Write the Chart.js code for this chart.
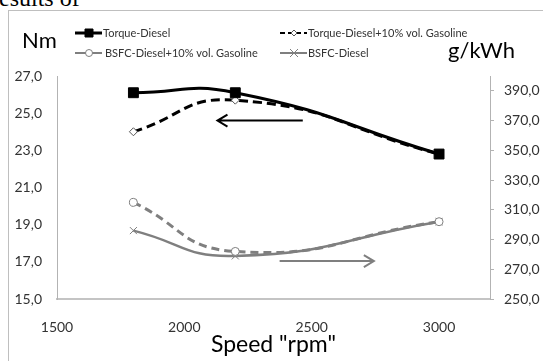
<!DOCTYPE html>
<html>
<head>
<meta charset="utf-8">
<script src="https://cdn.jsdelivr.net/npm/chart.js@4.4.0/dist/chart.umd.min.js"></script>
<style>
html, body { margin: 0; padding: 0; background: #fff; overflow: hidden; width: 543px; height: 361px; }
#lead { position: absolute; left: -9px; top: -14px; font: 24px/24px "Liberation Serif", serif; color: #000; white-space: nowrap; }
#frame { position: absolute; left: 8px; top: 10px; width: 560px; height: 380px; border: 1px solid #bfbfbf; background: #fff; }
#chart { position: absolute; left: 0; top: 0; }
</style>
</head>
<body>
<div id="lead">results of</div>
<div id="frame"><canvas id="chart" width="545" height="360"></canvas></div>
<script>
// Engine speed (rpm) and measured results
const speeds = [1800, 2200, 3000];
const torqueDiesel = [26.1, 26.1, 22.8];          // Nm
const torqueBlend = [24.0, 25.7, 22.8];           // Nm
const bsfcBlend = [315, 282, 302];                // g/kWh
const bsfcDiesel = [296, 279, 302];               // g/kWh

const seriesNames = [
  'Torque-Diesel',
  'Torque-Diesel+10% vol. Gasoline',
  'BSFC-Diesel+10% vol. Gasoline',
  'BSFC-Diesel'
];

// Axis ticks
const speedTicks = [1500, 2000, 2500, 3000];
const torqueTicks = [15, 17, 19, 21, 23, 25, 27];
const bsfcTicks = [250, 270, 290, 310, 330, 350, 370, 390];

// Direction arrows, in axis units: [speed, value]
const torqueArrow = { from: [2465, 24.6], to: [2130, 24.6], axis: 'y' };
const bsfcArrow = { from: [2374, 275.5], to: [2744, 275.5], axis: 'y1' };

const BLACK = '#000000';
const GREY = '#7f7f7f';
const AXIS = '#b3b3b3';
const TEXT = '#333333';
const FONT = 'Lato, "Open Sans", sans-serif';

const pts = (ys) => speeds.map((x, i) => ({ x, y: ys[i] }));
const comma = (v) => Number(v).toFixed(1).replace('.', ',');
const plain = (v) => String(v);

const datasets = [
  { label: seriesNames[0], data: pts(torqueDiesel), yAxisID: 'y',
    borderColor: BLACK, borderWidth: 3, pointStyle: 'rect', pointRadius: 7,
    pointBackgroundColor: BLACK, pointBorderColor: BLACK, pointBorderWidth: 1 },
  { label: seriesNames[1], data: pts(torqueBlend), yAxisID: 'y',
    borderColor: BLACK, borderWidth: 3, borderDash: [9, 5], pointStyle: 'rectRot', pointRadius: 4,
    pointBackgroundColor: '#ffffff', pointBorderColor: '#555555', pointBorderWidth: 1 },
  { label: seriesNames[2], data: pts(bsfcBlend), yAxisID: 'y1',
    borderColor: GREY, borderWidth: 3, borderDash: [8, 5], pointStyle: 'circle', pointRadius: 4,
    pointBackgroundColor: '#ffffff', pointBorderColor: GREY, pointBorderWidth: 1 },
  { label: seriesNames[3], data: pts(bsfcDiesel), yAxisID: 'y1',
    borderColor: GREY, borderWidth: 2.5, pointStyle: 'crossRot', pointRadius: 5,
    pointBackgroundColor: GREY, pointBorderColor: GREY, pointBorderWidth: 1 }
];

function drawMarker(ctx, style, r, x, y, fill, stroke) {
  ctx.save();
  ctx.setLineDash([]);
  ctx.lineWidth = 1;
  ctx.fillStyle = fill;
  ctx.strokeStyle = stroke;
  ctx.beginPath();
  if (style === 'rect') {
    ctx.rect(x - r, y - r, 2 * r, 2 * r);
    ctx.fill(); ctx.stroke();
  } else if (style === 'rectRot') {
    ctx.moveTo(x, y - r); ctx.lineTo(x + r, y); ctx.lineTo(x, y + r); ctx.lineTo(x - r, y); ctx.closePath();
    ctx.fill(); ctx.stroke();
  } else if (style === 'circle') {
    ctx.arc(x, y, r, 0, Math.PI * 2);
    ctx.fill(); ctx.stroke();
  } else if (style === 'crossRot') {
    ctx.moveTo(x - r, y - r); ctx.lineTo(x + r, y + r);
    ctx.moveTo(x + r, y - r); ctx.lineTo(x - r, y + r);
    ctx.stroke();
  }
  ctx.restore();
}

// Two-row legend plus the horizontal unit labels above each value axis
const headerPlugin = {
  id: 'header',
  afterDraw(chart) {
    const ctx = chart.ctx;
    const slots = [
      { x: 66, y: 22, tx: 94 },
      { x: 271, y: 22, tx: 299 },
      { x: 66, y: 42, tx: 96 },
      { x: 271, y: 42, tx: 299 }
    ];
    const markerSize = [4, 3, 3.5, 4];
    const sampleDash = [[], [5, 3], [], []];
    chart.data.datasets.forEach((ds, i) => {
      const s = slots[i];
      ctx.save();
      ctx.strokeStyle = ds.borderColor;
      ctx.lineWidth = i === 0 ? 3 : 2;
      ctx.setLineDash(sampleDash[i]);
      ctx.beginPath();
      ctx.moveTo(s.x, s.y);
      ctx.lineTo(s.x + 27, s.y);
      ctx.stroke();
      ctx.restore();
      drawMarker(ctx, ds.pointStyle, markerSize[i], s.x + 14, s.y,
        ds.pointBackgroundColor, ds.pointBorderColor);
      ctx.save();
      ctx.fillStyle = TEXT;
      ctx.font = '11px ' + FONT;
      ctx.textBaseline = 'middle';
      ctx.textAlign = 'left';
      ctx.fillText(ds.label, s.tx, s.y);
      ctx.restore();
    });
    ctx.save();
    ctx.fillStyle = '#000';
    ctx.font = '22px ' + FONT;
    ctx.textBaseline = 'alphabetic';
    ctx.textAlign = 'left';
    ctx.fillText('Nm', 13, 37);
    ctx.fillText('g/kWh', 439, 47);
    ctx.restore();
  }
};

// Arrows pointing each family of curves to its value axis
const arrowPlugin = {
  id: 'arrows',
  afterDatasetsDraw(chart) {
    const ctx = chart.ctx;
    const xs = chart.scales.x;
    [[torqueArrow, BLACK], [bsfcArrow, GREY]].forEach(([a, color]) => {
      const ys = chart.scales[a.axis];
      const x0 = xs.getPixelForValue(a.from[0]), y0 = ys.getPixelForValue(a.from[1]);
      const x1 = xs.getPixelForValue(a.to[0]), y1 = ys.getPixelForValue(a.to[1]);
      const dir = Math.sign(x1 - x0);
      ctx.save();
      ctx.strokeStyle = color;
      ctx.lineWidth = 2;
      ctx.lineCap = 'butt';
      ctx.beginPath();
      ctx.moveTo(x0, y0);
      ctx.lineTo(x1, y1);
      ctx.moveTo(x1 - dir * 10, y1 - 6);
      ctx.lineTo(x1, y1);
      ctx.lineTo(x1 - dir * 10, y1 + 6);
      ctx.stroke();
      ctx.restore();
    });
  }
};

new Chart(document.getElementById('chart'), {
  type: 'line',
  data: { datasets },
  plugins: [arrowPlugin, headerPlugin],
  options: {
    responsive: false,
    animation: false,
    layout: { padding: { top: 65, left: 0, right: 0, bottom: 0 } },
    elements: { line: { tension: 0.5, fill: false } },
    plugins: { legend: { display: false }, tooltip: { enabled: false } },
    scales: {
      x: {
        type: 'linear', min: 1500, max: 3200,
        afterBuildTicks: (s) => { s.ticks = speedTicks.map(v => ({ value: v })); },
        afterFit: (s) => { s.height = 72; },
        grid: { display: false, drawTicks: false },
        border: { display: true, color: '#c4c4c4', width: 2 },
        ticks: { padding: 20, color: TEXT, font: { family: FONT, size: 14 }, maxRotation: 0,
                 autoSkip: false, callback: plain },
        title: { display: true, text: 'Speed "rpm"', color: '#000',
                 font: { family: FONT, size: 23 }, padding: { top: 0, bottom: 13 } }
      },
      y: {
        position: 'left', min: 15, max: 27,
        afterBuildTicks: (s) => { s.ticks = torqueTicks.map(v => ({ value: v })); },
        afterFit: (s) => { s.width = 48; },
        grid: { drawOnChartArea: false, drawTicks: false },
        border: { display: true, color: AXIS, width: 1 },
        ticks: { padding: 15, color: TEXT, font: { family: FONT, size: 14 }, callback: comma }
      },
      y1: {
        position: 'right', min: 250, max: 400,
        afterBuildTicks: (s) => { s.ticks = bsfcTicks.map(v => ({ value: v })); },
        afterFit: (s) => { s.width = 64; },
        grid: { drawOnChartArea: false, drawTicks: true, tickLength: 4, color: AXIS },
        border: { display: true, color: AXIS, width: 1 },
        ticks: { padding: 10, color: TEXT, font: { family: FONT, size: 14 }, callback: comma }
      }
    }
  }
});
</script>
</body>
</html>
